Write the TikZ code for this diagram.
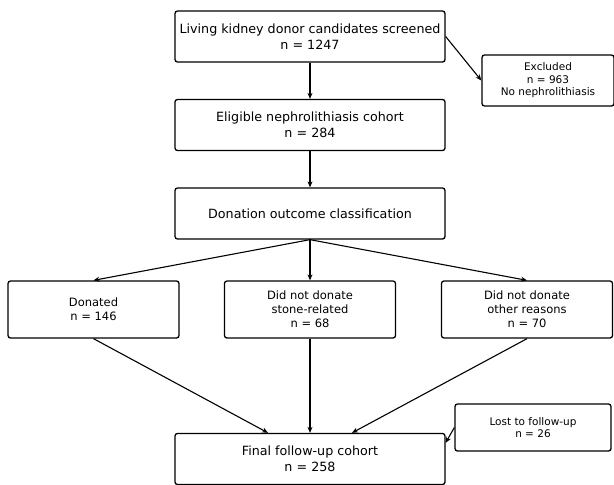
\documentclass[tikz,border=0pt]{standalone}
\usepackage{fontspec}
\setmainfont{DejaVu Sans}
\usetikzlibrary{arrows.meta}

\begin{document}
\begin{tikzpicture}[x=1pt,y=1pt,
    bigbox/.style={draw,line width=1.3pt,rounded corners=2.5pt,align=center,
      minimum width=270pt,minimum height=51pt,font=\fontsize{12.7}{15.5}\selectfont},
    midbox/.style={draw,line width=1.3pt,rounded corners=2.5pt,align=center,
      minimum width=171pt,minimum height=57pt,font=\fontsize{11.5}{14}\selectfont},
    sidebox/.style={draw,line width=1.3pt,rounded corners=2.5pt,align=center,
      font=\fontsize{10.5}{12.5}\selectfont},
    arr/.style={-{Stealth[length=6pt,width=5pt]},line width=1.1pt}]
      \useasboundingbox (0,0) rectangle (614,-485);
      % main column
      \node[bigbox] (screen) at (310,-36.5) {Living kidney donor candidates screened\\n = 1247};
      \node[bigbox] (elig) at (310,-125) {Eligible nephrolithiasis cohort\\n = 284};
      \node[bigbox] (class) at (310,-213.5) {Donation outcome classification};
      \node[bigbox] (final) at (310,-459) {Final follow-up cohort\\n = 258};
      % side boxes
      \node[sidebox,minimum width=132pt,minimum height=51pt] (excl) at (548,-80.5) {Excluded\\n = 963\\No nephrolithiasis};
      \node[sidebox,minimum width=156pt,minimum height=47pt] (lost) at (533,-427.5) {Lost to follow-up\\n = 26};
      % outcome groups
      \node[midbox] (don) at (93.5,-309.5) {Donated\\n = 146};
      \node[midbox] (stone) at (310,-309.5) {Did not donate\\stone-related\\n = 68};
      \node[midbox] (other) at (527,-309.5) {Did not donate\\other reasons\\n = 70};
      % connectors
      \draw[arr] (screen) -- (elig);
      \draw[arr] (screen.east) -- (excl.west);
      \draw[arr] (elig) -- (class);
      \draw[arr] (class.south) -- (don.north);
      \draw[arr] (class.south) -- (stone.north);
      \draw[arr] (class.south) -- (other.north);
      \draw[arr] (don.south) -- ([xshift=-42pt]final.north);
      \draw[arr] (stone.south) -- (final.north);
      \draw[arr] (other.south) -- ([xshift=42pt]final.north);
      \draw[arr] (lost.west) -- ([yshift=-10pt]final.north east);
    \end{tikzpicture}
\end{document}
